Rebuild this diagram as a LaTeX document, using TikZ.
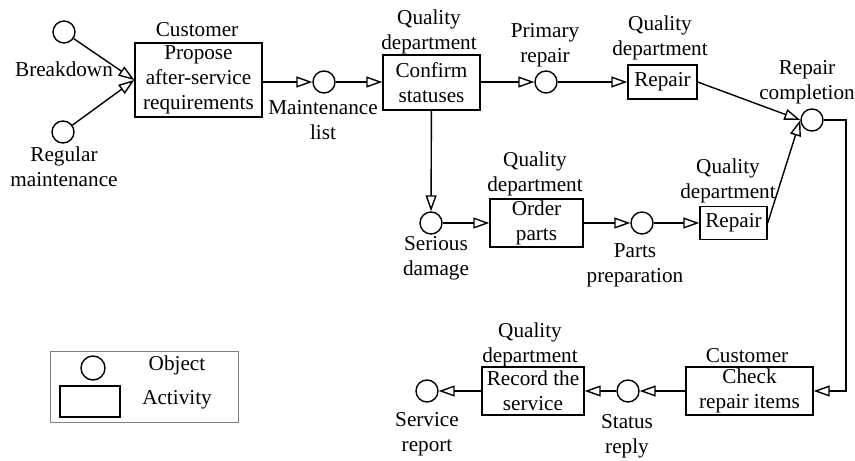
\documentclass[tikz,border=0pt]{standalone}
\usepackage{fontspec}
\setmainfont{Liberation Serif}
\usetikzlibrary{arrows.meta}

\begin{document}
\begin{tikzpicture}[x=0.5pt,y=-0.5pt,
    every node/.style={font=\fontsize{10.6}{12.5}\selectfont, align=center},
    obj/.style={draw, circle, line width=0.7pt, minimum size=11pt, inner sep=0pt},
    act/.style={draw, rectangle, line width=0.7pt, inner sep=1pt},
    lab/.style={inner sep=0pt},
    flow/.style={line width=0.7pt, -{Triangle[open, length=8pt, width=5.5pt]}}]
    % Frame
    \useasboundingbox (0,0) rectangle (855,460);
    % Objects
    \node[obj] (brk) at (64,32) {};
    \node[obj] (regm) at (63,132) {};
    \node[obj] (mlist) at (324,82) {};
    \node[obj] (prim) at (546,82) {};
    \node[obj] (rcomp) at (812,120) {};
    \node[obj] (sdam) at (431,223) {};
    \node[obj] (pprep) at (642,223) {};
    \node[obj] (stat) at (628,391) {};
    \node[obj] (srep) at (427,391) {};
    % Activities
    \node[act, minimum width=63.5pt, minimum height=37pt] (prop) at (198.5,80) {Propose\\after-service\\requirements};
    \node[act, minimum width=48.5pt, minimum height=27.5pt] (conf) at (431.5,82.5) {Confirm\\statuses};
    \node[act, minimum width=34.5pt, minimum height=17pt] (rep1) at (662.5,82) {Repair};
    \node[act, minimum width=46.5pt, minimum height=24pt] (ord) at (536.5,223) {Order\\parts};
    \node[act, minimum width=33.5pt, minimum height=16.5pt] (rep2) at (733.5,223) {Repair};
    \node[act, minimum width=63.5pt, minimum height=24pt] (chk) at (749.5,391) {Check\\repair items};
    \node[act, minimum width=51pt, minimum height=24pt] (rec) at (533,391) {Record the\\service};
    % Labels
    \node[lab] (prop-l) at (197,29.5) {Customer};
    \node[lab] (brk-l) at (64,69.5) {Breakdown};
    \node[lab] (regm-l) at (64,167) {Regular\\maintenance};
    \node[lab] (mlist-l) at (323,120) {Maintenance\\list};
    \node[lab] (conf-l) at (429,31.5) {Quality\\department};
    \node[lab] (prim-l) at (545,45) {Primary\\repair};
    \node[lab] (rep1-l) at (660,38) {Quality\\department};
    \node[lab] (rcomp-l) at (807,82) {Repair\\completion};
    \node[lab] (ord-l) at (535,174) {Quality\\department};
    \node[lab] (sdam-l) at (436,258) {Serious\\damage};
    \node[lab] (pprep-l) at (635,265) {Parts\\preparation};
    \node[lab] (rep2-l) at (728,181) {Quality\\department};
    \node[lab] (chk-l) at (747,356) {Customer};
    \node[lab] (stat-l) at (627,436) {Status\\reply};
    \node[lab] (rec-l) at (530,345) {Quality\\department};
    \node[lab] (srep-l) at (427,434.5) {Service\\report};
    % Flows
    \coordinate (rt) at (846,391);
    \draw[flow] (brk) -- (prop.west);
    \draw[flow] (regm) -- (prop.west);
    \draw[flow] (prop.east |- mlist) -- (mlist);
    \draw[flow] (mlist) -- (conf.west |- mlist);
    \draw[flow] (conf.east |- prim) -- (prim);
    \draw[flow] (prim) -- (rep1);
    \draw[flow] (rep1.east) -- (rcomp.west);
    \draw[flow] (rep2.east) -- (rcomp.west);
    \draw[flow] (rcomp) -| (rt) -- (chk);
    \draw[flow] (conf) -- (sdam);
    \draw[flow] (sdam) -- (ord);
    \draw[flow] (ord) -- (pprep);
    \draw[flow] (pprep) -- (rep2);
    \draw[flow] (chk) -- (stat);
    \draw[flow] (stat) -- (rec);
    \draw[flow] (rec) -- (srep);
    % Legend
    \node[draw=gray, line width=0.5pt, minimum width=94pt, minimum height=35.5pt, inner sep=0pt] (leg) at (144,386.5) {};
    \node[obj, minimum size=12pt] (leg-o) at (93,368) {};
    \node[act, minimum width=30pt, minimum height=15.5pt] (leg-a) at (90,401.5) {};
    \node[lab] (leg-ot) at (177,365) {Object};
    \node[lab] (leg-at) at (177,400) {Activity};
\end{tikzpicture}
\end{document}
